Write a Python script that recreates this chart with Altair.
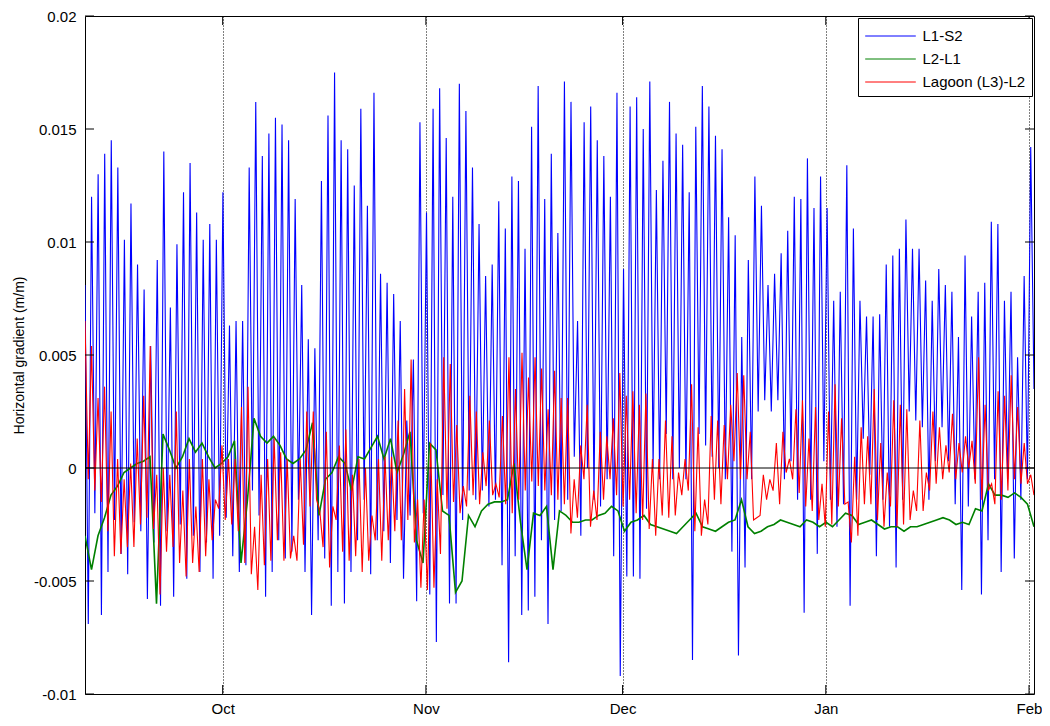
import altair as alt
import pandas as pd

# ---------------- data ----------------
series_names = ["L1-S2", "L2-L1", "Lagoon (L3)-L2"]
series_colors = ["#0000ff", "#008000", "#ff0000"]
month_labels = ["Oct", "Nov", "Dec", "Jan", "Feb"]
month_days = [21, 52, 82, 113, 144]          # days after 10 Sep
y_ticks = [-0.01, -0.005, 0, 0.005, 0.01, 0.015, 0.02]
span_days = 144.76                             # shown time span, from 10 Sep

# L1-S2: daily highs and lows
blue_peaks = [
    0.0081, 0.0120, 0.0130, 0.0139, 0.0145, 0.0133, 0.0101, 0.0117, 0.0090, 0.0079, 0.0054, 0.0092, 0.0140, 0.0071,
    0.0099, 0.0122, 0.0135, 0.0113, 0.0101, 0.0108, 0.0101, 0.0122, 0.0063, 0.0065, 0.0065, 0.0133,
    0.0162, 0.0138, 0.0148, 0.0155, 0.0152, 0.0145, 0.0119, 0.0081, 0.0057, 0.0053, 0.0127, 0.0156, 0.0175, 0.0145,
    0.0141, 0.0125, 0.0159, 0.0116, 0.0166, 0.0086, 0.0082, 0.0077, 0.0065, 0.0021, 0.0048, 0.0153, 0.0113,
    0.0159, 0.0168, 0.0146, 0.0120, 0.0170, 0.0158, 0.0133, 0.0108, 0.0085, 0.0090, 0.0118, 0.0106, 0.0129, 0.0127,
    0.0097, 0.0151, 0.0169, 0.0119, 0.0139, 0.0104, 0.0171, 0.0162, 0.0065, 0.0153, 0.0160, 0.0145, 0.0138,
    0.0120, 0.0166, 0.0088, 0.0160, 0.0164, 0.0150, 0.0171, 0.0123, 0.0136, 0.0162, 0.0148, 0.0143, 0.0122,
    0.0151, 0.0169, 0.0160, 0.0147, 0.0141, 0.0111, 0.0103, 0.0058, 0.0092, 0.0129, 0.0116, 0.0081, 0.0086,
    0.0095, 0.0105, 0.0120, 0.0119, 0.0137, 0.0115, 0.0129, 0.0115, 0.0074, 0.0078, 0.0134, 0.0106, 0.0074,
    0.0067, 0.0067, 0.0068, 0.0090, 0.0094, 0.0097, 0.0110, 0.0097, 0.0097, 0.0083, 0.0074, 0.0088, 0.0081,
    0.0078, 0.0058, 0.0094, 0.0067, 0.0078, 0.0082, 0.0109, 0.0108, 0.0074, 0.0078, 0.0049, 0.0085, 0.0142,
]
blue_troughs = [
    -0.0069, -0.0020, -0.0065, -0.0046, -0.0023, -0.0038, -0.0047, -0.0024, -0.0028, -0.0058, -0.0033, -0.0061, -0.0028, -0.0057,
    -0.0025, -0.0049, -0.0030, -0.0046, -0.0033, -0.0049, -0.0030, -0.0022, -0.0039, -0.0046, -0.0043, -0.0010,
    -0.0021, -0.0057, -0.0046, -0.0032, -0.0040, -0.0037, -0.0014, -0.0046, -0.0065, -0.0032, -0.0040, -0.0061, -0.0046, -0.0060,
    -0.0046, -0.0032, -0.0014, -0.0047, -0.0032, -0.0028, -0.0042, -0.0023, -0.0049, -0.0021, -0.0059, -0.0020, -0.0056,
    -0.0077, -0.0012, -0.0060, -0.0060, -0.0023, -0.0010, -0.0014, -0.0010, -0.0017, -0.0014, -0.0043, -0.0086, -0.0039,
    -0.0065, -0.0063, -0.0057, -0.0032, -0.0069, -0.0023, -0.0019, -0.0014, 0.0005, -0.0030, 0.0000, -0.0014, -0.0017,
    -0.0005, -0.0039, -0.0092, -0.0048, -0.0048, -0.0049, -0.0018, 0.0000, -0.0005, 0.0015, -0.0005, 0.0000, -0.0005,
    -0.0085, 0.0015, 0.0010, 0.0005, 0.0000, -0.0005, -0.0037, -0.0083, -0.0044, -0.0005, 0.0025, 0.0030, 0.0025,
    0.0030, -0.0005, 0.0003, -0.0014, -0.0064, -0.0014, -0.0038, 0.0003, -0.0014, -0.0026, -0.0016, -0.0061, -0.0014,
    0.0013, -0.0003, -0.0039, -0.0014, -0.0026, -0.0044, -0.0014, 0.0025, 0.0021, 0.0018, -0.0014, 0.0003, 0.0018,
    0.0003, -0.0016, -0.0054, -0.0017, -0.0005, -0.0056, -0.0032, -0.0005, -0.0046, -0.0005, -0.0040, -0.0014, -0.0005, 0.0035,
]

# Lagoon (L3)-L2: daily highs and lows
red_peaks = [
    0.0065, 0.0054, 0.0031, 0.0036, 0.0025, 0.0004, -0.0005, 0.0002, 0.0013, 0.0032, 0.0054, -0.0003, 0.0000, -0.0003,
    0.0025, -0.0010, 0.0004, -0.0017, 0.0004, -0.0005, -0.0014, 0.0010, 0.0004, 0.0004, 0.0027, 0.0036,
    -0.0026, -0.0003, 0.0004, 0.0013, 0.0007, 0.0004, -0.0030, 0.0004, 0.0025, 0.0025, -0.0019, 0.0016, -0.0017, 0.0010,
    0.0017, -0.0003, 0.0004, 0.0000, -0.0021, 0.0004, 0.0005, 0.0005, 0.0021, 0.0035, 0.0048, -0.0014, -0.0014,
    0.0011, -0.0005, 0.0049, 0.0046, 0.0019, -0.0008, 0.0032, 0.0025, 0.0007, 0.0021, -0.0007, 0.0023, 0.0049, 0.0035,
    0.0051, 0.0040, 0.0049, 0.0044, 0.0026, 0.0043, 0.0031, 0.0031, -0.0005, 0.0010, 0.0028, -0.0010, 0.0016,
    0.0014, 0.0022, 0.0042, 0.0032, 0.0034, 0.0028, 0.0033, 0.0004, 0.0004, 0.0021, 0.0014, -0.0002, 0.0004,
    0.0037, 0.0018, -0.0014, 0.0023, 0.0021, 0.0019, 0.0028, 0.0042, 0.0041, 0.0016, -0.0022, -0.0003, -0.0005,
    0.0011, 0.0016, 0.0004, 0.0026, 0.0030, 0.0013, 0.0027, -0.0007, 0.0025, 0.0037, 0.0022, -0.0015, 0.0005,
    0.0018, 0.0014, 0.0035, 0.0011, -0.0002, 0.0030, 0.0028, 0.0026, -0.0010, 0.0021, -0.0002, 0.0025, 0.0018, 0.0010,
    0.0024, 0.0011, 0.0014, 0.0012, 0.0049, 0.0028, -0.0007, 0.0034, 0.0032, 0.0041, 0.0027, 0.0011, -0.0003,
]
red_troughs = [
    -0.0005, -0.0010, -0.0015, -0.0028, -0.0039, -0.0038, -0.0035, -0.0035, -0.0025, -0.0022, -0.0027, -0.0056, -0.0037, -0.0035,
    -0.0042, -0.0048, -0.0042, -0.0046, -0.0039, -0.0032, -0.0018, -0.0023, -0.0025, -0.0028, -0.0042, -0.0047,
    -0.0054, -0.0043, -0.0041, -0.0032, -0.0041, -0.0040, -0.0041, -0.0034, -0.0017, -0.0014, -0.0035, -0.0044, -0.0023, -0.0037,
    -0.0041, -0.0039, -0.0046, -0.0041, -0.0032, -0.0041, -0.0032, -0.0028, -0.0032, -0.0023, -0.0033, -0.0053, -0.0054,
    -0.0053, -0.0038, -0.0018, -0.0015, -0.0020, -0.0017, -0.0012, -0.0016, -0.0008, -0.0012, -0.0013, -0.0016, -0.0020, -0.0014,
    -0.0010, -0.0006, -0.0008, -0.0010, -0.0012, -0.0014, -0.0016, -0.0029, -0.0022, -0.0005, -0.0026, -0.0023, -0.0014,
    -0.0005, -0.0012, -0.0017, -0.0014, -0.0020, -0.0023, -0.0027, -0.0030, -0.0021, -0.0022, -0.0021, -0.0012, -0.0010,
    -0.0028, -0.0030, -0.0025, -0.0014, -0.0016, -0.0005, 0.0003, -0.0005, -0.0005, -0.0023, -0.0021, -0.0014, -0.0010,
    -0.0016, -0.0002, -0.0005, -0.0011, -0.0017, -0.0019, -0.0023, -0.0026, -0.0025, -0.0017, -0.0016, -0.0033, -0.0030,
    -0.0016, -0.0016, -0.0023, -0.0026, -0.0017, -0.0026, -0.0025, -0.0023, -0.0019, -0.0019, -0.0010, -0.0007, -0.0005, -0.0002,
    -0.0005, -0.0002, 0.0000, -0.0007, -0.0014, -0.0010, -0.0016, -0.0014, -0.0010, -0.0005, -0.0007, -0.0007, -0.0012,
]

# L2-L1: one reading per day
green_values = [
    -0.0030, -0.0045, -0.0030, -0.0022, -0.0012, -0.0008, -0.0002, 0.0000, 0.0002, 0.0003, 0.0005, -0.0060, 0.0015, 0.0008,
    0.0000, 0.0005, 0.0013, 0.0007, 0.0011, 0.0005, 0.0000, 0.0002, 0.0005, 0.0012, -0.0042, -0.0014, 0.0022, 0.0014,
    0.0011, 0.0014, 0.0010, 0.0004, 0.0002, 0.0004, 0.0008, 0.0020, -0.0021, -0.0005, -0.0002, 0.0005, 0.0002,
    -0.0010, 0.0005, 0.0004, 0.0009, 0.0014, 0.0004, 0.0013, -0.0002, 0.0006, 0.0016, -0.0032, -0.0042, 0.0011,
    0.0008, -0.0019, -0.0021, -0.0055, -0.0050, -0.0021, -0.0026, -0.0019, -0.0016, -0.0015, -0.0015, -0.0014, 0.0002, -0.0024,
    -0.0045, -0.0020, -0.0021, -0.0017, -0.0045, -0.0019, -0.0021, -0.0024, -0.0024, -0.0023, -0.0023, -0.0021, -0.0020,
    -0.0017, -0.0019, -0.0028, -0.0024, -0.0023, -0.0021, -0.0025, -0.0026, -0.0027, -0.0028, -0.0029, -0.0026, -0.0023, -0.0020,
    -0.0026, -0.0027, -0.0028, -0.0026, -0.0024, -0.0023, -0.0014, -0.0026, -0.0029, -0.0028, -0.0026, -0.0025, -0.0023,
    -0.0024, -0.0025, -0.0026, -0.0023, -0.0024, -0.0026, -0.0024, -0.0026, -0.0023, -0.0020, -0.0021, -0.0025, -0.0024, -0.0023,
    -0.0025, -0.0027, -0.0026, -0.0026, -0.0028, -0.0026, -0.0026, -0.0025, -0.0024, -0.0023, -0.0022, -0.0023, -0.0025,
    -0.0024, -0.0025, -0.0018, -0.0019, -0.0007, -0.0012, -0.0012, -0.0013, -0.0011, -0.0013, -0.0016, -0.0026,
]


# ---------------- tables ----------------
def zigzag(peaks, troughs):
    out = []
    for p, t in zip(peaks, troughs):
        out += [p, t]
    return out


def frame(values, name):
    n = len(values)
    return pd.DataFrame({"day": [i * span_days / (n - 1) for i in range(n)],
                         "value": values, "series": [name] * n})


blue_df = frame(zigzag(blue_peaks, blue_troughs), series_names[0])
green_df = frame(green_values, series_names[1])
red_df = frame(zigzag(red_peaks, red_troughs), series_names[2])

# ---------------- chart ----------------
W, H = 949, 678
FONT = "Liberation Sans"

x_scale = alt.Scale(domain=[0, span_days], nice=False, zero=False)
y_scale = alt.Scale(domain=[-0.01, 0.02], nice=False, zero=False)
color_scale = alt.Scale(domain=series_names, range=series_colors)

label_expr = " : ".join(f"datum.value == {d} ? '{m}'" for d, m in zip(month_days, month_labels)) + " : ''"

x_axis = alt.Axis(values=month_days, labelExpr=label_expr, title=None, grid=True,
                  gridDash=[1, 2], gridColor="black", gridOpacity=1, gridWidth=1,
                  ticks=False, tickSize=0, domain=False, labelFontSize=15, labelPadding=7,
                  labelColor="black", labelFont=FONT)
y_axis = alt.Axis(values=y_ticks, labelExpr="'' + datum.value", grid=False, ticks=False,
                  tickSize=0, domain=False, title="Horizontal gradient (m/m)", titleFontSize=14,
                  titleFontWeight="normal", titleFont=FONT, titleColor="black", titlePadding=7,
                  labelFontSize=15, labelPadding=9, labelColor="black", labelFont=FONT)

legend = alt.Legend(title=None, orient="top-right", offset=2, padding=6, strokeColor="black",
                    fillColor="white", symbolType="M-2.2,0H2.2", symbolSize=529,
                    symbolStrokeWidth=1, symbolOffset=14.5, labelOffset=20, rowPadding=3,
                    labelFontSize=15, labelFont=FONT, labelColor="black")

X = alt.X("day:Q", scale=x_scale, axis=x_axis)
Y = alt.Y("value:Q", scale=y_scale, axis=y_axis)


def line_layer(df, width):
    return alt.Chart(df).mark_line(strokeWidth=width, clip=True).encode(
        x=X, y=Y, color=alt.Color("series:N", scale=color_scale, legend=legend),
    )


ytick_df = pd.DataFrame({"value": y_ticks})
mtick_df = pd.DataFrame({"day": month_days})
zero_df = pd.DataFrame({"value": [0]})

left_ticks = alt.Chart(ytick_df).mark_rule(color="black", strokeWidth=1).encode(
    y=Y, x=alt.value(0), x2=alt.value(9))
right_ticks = alt.Chart(ytick_df).mark_rule(color="black", strokeWidth=1).encode(
    y=Y, x=alt.value(W - 9), x2=alt.value(W))
bottom_ticks = alt.Chart(mtick_df).mark_rule(color="black", strokeWidth=1).encode(
    x=X, y=alt.value(H - 9), y2=alt.value(H))
top_ticks = alt.Chart(mtick_df).mark_rule(color="black", strokeWidth=1).encode(
    x=X, y=alt.value(0), y2=alt.value(9))
zero_line = alt.Chart(zero_df).mark_rule(color="black", strokeWidth=1).encode(y=Y)

chart = alt.layer(
    line_layer(blue_df, 1.1),
    line_layer(green_df, 1.6),
    line_layer(red_df, 1.1),
    zero_line, left_ticks, right_ticks, bottom_ticks, top_ticks,
).properties(
    width=W, height=H,
    autosize=alt.AutoSizeParams(type="none"),
    padding={"left": 77, "top": 8, "right": 8, "bottom": 23},
    background="white",
).configure_view(stroke="black", strokeWidth=1)

chart.save("out.html", embed_options={"renderer": "svg", "actions": False})
